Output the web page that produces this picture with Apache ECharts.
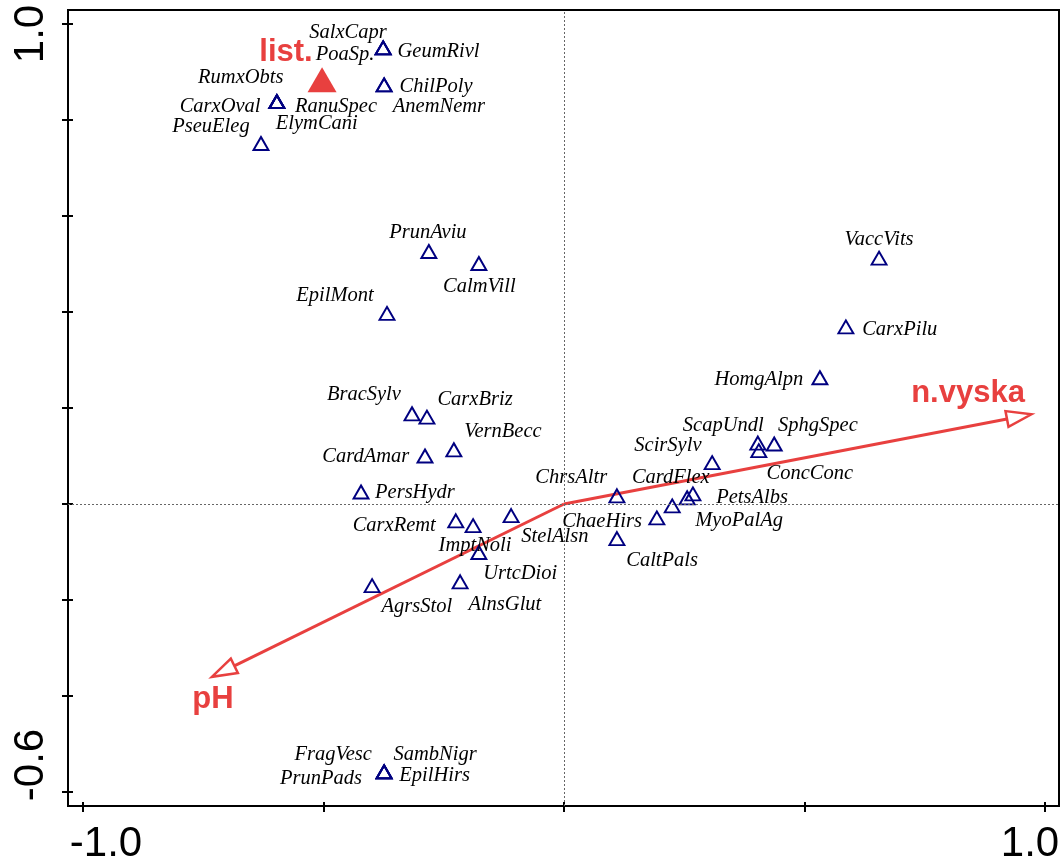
<!DOCTYPE html>
<html><head><meta charset="utf-8">
<script src="https://cdn.jsdelivr.net/npm/echarts@6/dist/echarts.min.js"></script>
<style>html,body{margin:0;padding:0;background:#fff}#c{width:1064px;height:865px}</style>
</head><body><div id="c"></div>
<script>
// ---- species scores (triangles) ----
const speciesNames = ['SalxCapr','GeumRivl','PoaSp.','ChilPoly','AnemNemr','RumxObts','CarxOval','RanuSpec','ElymCani','PseuEleg',
  'PrunAviu','CalmVill','EpilMont','BracSylv','CarxBriz','VernBecc','CardAmar','PersHydr','CarxRemt','ImptNoli',
  'UrtcDioi','StelAlsn','AlnsGlut','AgrsStol','FragVesc','SambNigr','PrunPads','EpilHirs','ChrsAltr','CaltPals',
  'ChaeHirs','CardFlex','MyoPalAg','PetsAlbs','ScirSylv','ScapUndl','ConcConc','SphgSpec','VaccVits','CarxPilu','HomgAlpn'];
const speciesX = [-0.376,-0.376,-0.376,-0.374,-0.374,-0.597,-0.597,-0.597,-0.597,-0.630,
  -0.281,-0.177,-0.368,-0.316,-0.285,-0.229,-0.289,-0.422,-0.225,-0.189,
  -0.177,-0.110,-0.216,-0.399,-0.374,-0.374,-0.374,-0.374,0.110,0.110,
  0.193,0.225,0.256,0.268,0.308,0.403,0.405,0.437,0.655,0.586,0.532];
const speciesY = [0.950,0.950,0.950,0.873,0.873,0.838,0.838,0.838,0.838,0.751,
  0.526,0.501,0.397,0.188,0.181,0.113,0.100,0.025,-0.035,-0.045,
  -0.101,-0.024,-0.162,-0.170,-0.558,-0.558,-0.558,-0.558,0.017,-0.072,
  -0.029,-0.004,0.013,0.021,0.086,0.127,0.111,0.125,0.512,0.369,0.263];
// label anchor of each species (data units)
const labelX = [-0.449,-0.261,-0.455,-0.266,-0.260,-0.672,-0.715,-0.474,-0.514,-0.734,
  -0.283,-0.176,-0.476,-0.416,-0.185,-0.127,-0.412,-0.310,-0.353,-0.185,
  -0.091,-0.019,-0.123,-0.306,-0.480,-0.268,-0.505,-0.269,0.015,0.204,
  0.079,0.222,0.364,0.391,0.216,0.331,0.511,0.528,0.655,0.698,0.405];
const labelY = [0.981,0.942,0.936,0.869,0.828,0.888,0.828,0.828,0.792,0.786,
  0.566,0.453,0.435,0.227,0.217,0.150,0.098,0.023,-0.045,-0.087,
  -0.145,-0.068,-0.209,-0.213,-0.523,-0.523,-0.571,-0.565,0.055,-0.118,
  -0.037,0.055,-0.035,0.013,0.121,0.163,0.063,0.163,0.551,0.364,0.260];
// ---- environmental variables (arrows) ----
const envNames = ['n.vyska','pH'];
const envX = [0.972,-0.732];
const envY = [0.187,-0.360];
const envLabelX = [0.840,-0.730];
const envLabelY = [0.231,-0.407];
// ---- nominal variable (centroid) ----
const nomNames = ['list.'];
const nomX = [-0.503];
const nomY = [0.884];
const nomLabelX = [-0.578];
const nomLabelY = [0.940];
// ---- axes ----
const xTicks = [-1.0,-0.5,0,0.5,1.0];
const xTickLabels = [-1.0,1.0];
const yTicks = [-0.6,-0.4,-0.2,0,0.2,0.4,0.6,0.8,1.0];
const yTickLabels = [-0.6,1.0];
const xMin = -1.0312, xMax = 1.0291, yMin = -0.6291, yMax = 1.0291;

const RED = '#e8403f', NAVY = '#000080';
const chart = echarts.init(document.getElementById('c'), null, {renderer:'canvas'});

function xAxisDef(inside){
  return {type:'value', min:xMin, max:xMax, position:'bottom', offset:0,
    axisLine:{show:false, onZero:false}, splitLine:{show:false},
    axisTick:{show:true, inside:inside, length:inside?4:6, customValues:xTicks, lineStyle:{color:'#000', width:2}},
    axisLabel: inside ? {show:false} : {show:true, customValues:xTickLabels, margin:17,
      formatter: v => v < 0 ? '{a|' + v.toFixed(1) + '}' : '{b|' + v.toFixed(1) + '}',
      rich:{a:{fontSize:42, fontFamily:'Liberation Sans', color:'#000', padding:[0,0,0,46]},
            b:{fontSize:42, fontFamily:'Liberation Sans', color:'#000', padding:[0,30,0,0]}}}
  };
}
function yAxisDef(inside){
  return {type:'value', min:yMin, max:yMax, position:'left', offset:0,
    axisLine:{show:false, onZero:false}, splitLine:{show:false},
    axisTick:{show:true, inside:inside, length:inside?5:6, customValues:yTicks, lineStyle:{color:'#000', width:2}},
    axisLabel: inside ? {show:false} : {show:true, customValues:yTickLabels, rotate:90, margin:16,
      formatter: v => v < 0 ? '{a|' + v.toFixed(1) + '}' : '{b|' + v.toFixed(1) + '}',
      rich:{a:{fontSize:42, fontFamily:'Liberation Sans', color:'#000', padding:[0,0,0,54]},
            b:{fontSize:42, fontFamily:'Liberation Sans', color:'#000', padding:[0,20,0,0]}}}
  };
}

const arrowData = envNames.map((n,i)=>[envX[i], envY[i], n]);

const option = {
  animation:false,
  backgroundColor:'#fff',
  grid:{left:68, top:10, width:991, height:798, show:true, borderColor:'#000', borderWidth:2, backgroundColor:'transparent'},
  xAxis:[xAxisDef(false), xAxisDef(true)],
  yAxis:[yAxisDef(false), yAxisDef(true)],
  series:[
    { // arrows
      type:'custom', xAxisIndex:0, yAxisIndex:0, data:arrowData, z:3, silent:true,
      renderItem:(params, api)=>{
        const o = api.coord([0,0]);
        const t = api.coord([api.value(0), api.value(1)]);
        const dx=t[0]-o[0], dy=t[1]-o[1], L=Math.hypot(dx,dy), ux=dx/L, uy=dy/L;
        const hl=25, hw=8;
        const bx=t[0]-ux*hl, by=t[1]-uy*hl;
        return {type:'group', children:[
          {type:'line', shape:{x1:o[0], y1:o[1], x2:bx, y2:by}, style:{stroke:RED, lineWidth:3}},
          {type:'polygon', shape:{points:[[t[0],t[1]],[bx-uy*hw, by+ux*hw],[bx+uy*hw, by-ux*hw]]},
            style:{fill:'#fff', stroke:RED, lineWidth:2.5, lineJoin:'miter'}}
        ]};
      },
      markLine:{silent:true, symbol:['none','none'], label:{show:false},
        lineStyle:{type:[2,2], color:'#666', width:1, opacity:1}, data:[{xAxis:0},{yAxis:0}]}
    },
    { // species triangles
      type:'scatter', xAxisIndex:0, yAxisIndex:0, z:4, silent:true,
      symbol:'triangle', symbolSize:[15,13],
      itemStyle:{color:'rgba(0,0,0,0)', borderColor:NAVY, borderWidth:1.9, opacity:1},
      data: speciesNames.map((n,i)=>({name:n, value:[speciesX[i], speciesY[i]]}))
    },
    { // species labels
      type:'scatter', xAxisIndex:0, yAxisIndex:0, z:5, silent:true,
      symbol:'circle', symbolSize:1, itemStyle:{color:'rgba(0,0,0,0)', opacity:1},
      label:{show:true, position:'inside', formatter:'{b}', color:'#000', opacity:1, fontSize:20.5,
        fontStyle:'italic', fontFamily:'Liberation Serif'},
      data: speciesNames.map((n,i)=>({name:n, value:[labelX[i], labelY[i]]}))
    },
    { // nominal centroid
      type:'scatter', xAxisIndex:0, yAxisIndex:0, z:4, silent:true,
      symbol:'triangle', symbolSize:[29,25], itemStyle:{color:RED, opacity:1},
      data: nomNames.map((n,i)=>({name:n, value:[nomX[i], nomY[i]]}))
    },
    { // env + nominal labels
      type:'scatter', xAxisIndex:0, yAxisIndex:0, z:6, silent:true,
      symbol:'circle', symbolSize:1, itemStyle:{color:'rgba(0,0,0,0)', opacity:1},
      label:{show:true, position:'inside', formatter:'{b}', color:RED, opacity:1, fontSize:31,
        fontWeight:'bold', fontFamily:'Liberation Sans'},
      data: envNames.map((n,i)=>({name:n, value:[envLabelX[i], envLabelY[i]]}))
        .concat(nomNames.map((n,i)=>({name:n, value:[nomLabelX[i], nomLabelY[i]]})))
    }
  ]
};
chart.setOption(option);
</script></body></html>
